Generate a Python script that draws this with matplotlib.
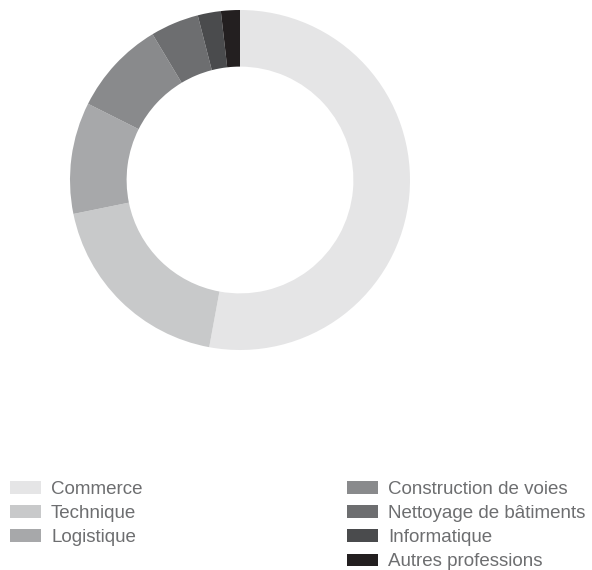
import matplotlib
matplotlib.use("Agg")
import matplotlib.pyplot as plt

plt.rcParams['font.family'] = ['Liberation Sans', 'DejaVu Sans']

labels = ["Commerce", "Technique", "Logistique", "Construction de voies",
          "Nettoyage de bâtiments", "Informatique", "Autres professions"]
shares = [52.9, 18.9, 10.6, 9.0, 4.6, 2.2, 1.8]
colors = ["#e5e5e6", "#c8c9ca", "#a7a8aa", "#898a8c", "#6d6e70", "#4a4b4d", "#231f20"]

fig = plt.figure(figsize=(5.92, 5.70), dpi=100)
ax = fig.add_axes([70 / 592, (570 - 350) / 570, 340 / 592, 340 / 570])
wedges, _ = ax.pie(shares, colors=colors, startangle=90, counterclock=False,
                   radius=1.0, wedgeprops=dict(width=0.333, linewidth=0))
ax.set_xlim(-1, 1)
ax.set_ylim(-1, 1)
ax.set_aspect("equal")
ax.axis("off")

kw = dict(frameon=False, fontsize=13.5, handlelength=1.66, handleheight=0.65,
          handletextpad=0.53, labelspacing=0.38, labelcolor="#6d6e70",
          borderpad=0, borderaxespad=0)
fig.legend(wedges[:3], labels[:3], loc="upper left",
           bbox_to_anchor=(10 / 592, 1 - 481 / 570), **kw)
fig.legend(wedges[3:], labels[3:], loc="upper left",
           bbox_to_anchor=(347 / 592, 1 - 481 / 570), **kw)

fig.savefig("out.png", dpi=100)
